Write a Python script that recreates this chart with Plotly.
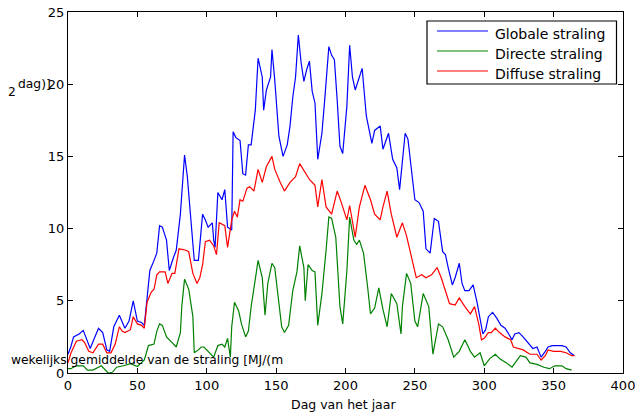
import plotly.graph_objects as go

# Globale straling (day, value)
glob_days = [0, 2, 4, 8, 11, 14, 16, 19, 22, 25, 28, 30, 33, 35, 37, 41, 44, 47, 50, 53, 55, 57, 59, 62, 64, 66, 68, 71, 73, 76, 78, 81, 84, 86, 89, 91, 94, 97, 99, 101, 104, 105, 106, 108, 111, 113, 115, 118, 119, 121, 124, 126, 128, 130, 132, 135, 137, 140, 141, 143, 146, 147, 149, 152, 155, 158, 160, 162, 164, 166, 168, 170, 172, 174, 176, 178, 180, 183, 185, 188, 190, 192, 194, 196, 198, 201, 203, 205, 207, 210, 212, 215, 219, 221, 225, 227, 231, 234, 237, 239, 240, 243, 245, 248, 250, 253, 256, 258, 261, 264, 267, 270, 272, 274, 277, 279, 282, 284, 286, 289, 292, 295, 297, 299, 301, 303, 306, 309, 312, 315, 317, 320, 322, 325, 328, 332, 335, 338, 341, 344, 346, 349, 352, 356, 359, 362, 365]
glob_vals = [1.3, 1.8, 2.5, 2.7, 2.95, 2.2, 1.7, 2.4, 3.1, 2.8, 1.6, 1.5, 3.2, 3.6, 4.0, 3.1, 3.6, 5.0, 3.6, 3.5, 3.3, 5.2, 7.1, 7.8, 8.3, 10.2, 10.1, 9.2, 7.1, 8.0, 8.5, 11.0, 15.1, 13.6, 10.4, 7.8, 7.8, 11.0, 10.6, 10.1, 10.4, 9.2, 8.7, 12.5, 12.0, 12.7, 10.1, 9.9, 16.7, 16.3, 16.1, 13.8, 13.7, 15.8, 15.8, 18.2, 21.8, 20.5, 18.2, 19.6, 20.5, 22.4, 20.3, 16.4, 15.0, 15.8, 17.1, 19.1, 20.5, 23.4, 21.5, 20.2, 21.0, 21.6, 19.5, 18.7, 14.8, 16.6, 18.9, 22.6, 22.0, 21.7, 18.9, 15.7, 15.2, 18.5, 22.7, 20.5, 19.6, 20.6, 21.1, 17.8, 15.9, 16.8, 17.1, 15.5, 16.6, 14.8, 14.2, 12.7, 13.8, 16.6, 16.2, 13.4, 12.0, 11.8, 11.2, 8.6, 8.3, 10.7, 10.5, 8.4, 8.2, 7.3, 6.1, 6.6, 7.6, 6.2, 5.7, 5.7, 6.1, 4.8, 3.6, 2.7, 3.0, 3.9, 4.2, 3.8, 3.3, 3.1, 2.8, 2.3, 2.7, 2.8, 2.5, 2.0, 1.7, 1.8, 1.1, 1.5, 1.8, 1.9, 1.9, 1.9, 1.8, 1.4, 1.2]

# Directe straling (day, value)
dir_days = [0, 2, 6, 11, 14, 18, 24, 29, 32, 35, 40, 45, 50, 55, 58, 62, 64, 66, 68, 71, 75, 78, 81, 82, 84, 87, 90, 91, 94, 96, 98, 101, 105, 108, 111, 113, 115, 117, 118, 120, 123, 125, 128, 130, 132, 135, 137, 140, 142, 144, 147, 149, 152, 154, 156, 159, 162, 165, 167, 170, 171, 173, 176, 178, 180, 183, 186, 188, 190, 193, 196, 198, 201, 203, 206, 208, 210, 213, 216, 218, 221, 224, 227, 230, 233, 237, 240, 241, 244, 247, 250, 252, 256, 260, 263, 267, 270, 274, 278, 282, 286, 290, 293, 297, 300, 304, 308, 311, 316, 320, 323, 326, 330, 333, 338, 343, 347, 351, 356, 359, 363]
dir_vals = [0.3, 0.3, 0.5, 0.5, 0.2, 0.2, 0.5, 0.0, 0.05, 0.4, 0.5, 0.65, 0.45, 0.9, 1.9, 2.0, 2.9, 3.4, 3.3, 2.5, 2.1, 1.8, 2.8, 4.6, 6.5, 5.8, 3.9, 1.4, 1.6, 1.8, 1.8, 1.5, 1.1, 1.9, 2.0, 1.8, 2.4, 1.1, 3.2, 4.9, 4.3, 3.4, 2.5, 2.9, 4.6, 6.5, 7.8, 6.6, 4.0, 6.2, 7.6, 7.3, 5.0, 3.2, 2.8, 3.3, 5.7, 7.0, 8.8, 7.3, 5.0, 7.5, 7.1, 7.0, 3.3, 5.5, 8.5, 10.8, 10.7, 9.4, 4.6, 3.4, 7.1, 10.8, 9.2, 8.9, 9.2, 8.3, 5.9, 4.1, 4.5, 5.9, 4.4, 3.2, 5.5, 4.8, 2.7, 4.6, 6.9, 6.2, 3.6, 3.2, 5.5, 4.6, 1.3, 3.4, 3.2, 2.3, 1.1, 1.5, 2.3, 1.5, 1.1, 1.4, 0.5, 1.0, 1.3, 1.0, 0.7, 0.4, 0.8, 1.2, 1.1, 0.7, 0.6, 0.4, 0.3, 0.5, 0.5, 0.3, 0.2]

# Diffuse straling (day, value)
dif_days = [0, 2, 6, 10, 12, 15, 18, 22, 25, 28, 31, 34, 37, 39, 41, 45, 47, 50, 53, 55, 57, 60, 62, 64, 66, 70, 72, 75, 77, 80, 85, 87, 90, 93, 95, 97, 99, 102, 105, 107, 109, 111, 113, 115, 118, 120, 122, 124, 126, 129, 131, 134, 137, 140, 143, 147, 149, 153, 156, 160, 164, 167, 171, 174, 178, 180, 183, 186, 190, 194, 197, 201, 203, 207, 210, 214, 218, 221, 225, 227, 230, 233, 237, 241, 244, 248, 251, 255, 258, 262, 266, 269, 273, 275, 279, 282, 286, 290, 293, 296, 298, 300, 303, 305, 308, 311, 315, 319, 321, 325, 328, 333, 338, 341, 344, 346, 350, 355, 359, 363, 365]
dif_vals = [0.7, 1.35, 2.2, 2.3, 2.1, 1.5, 1.4, 2.0, 2.0, 1.4, 1.4, 2.0, 3.2, 2.9, 2.8, 3.0, 3.9, 3.4, 3.3, 3.1, 4.9, 5.6, 5.8, 6.8, 7.0, 7.0, 6.2, 6.9, 6.9, 8.6, 8.5, 8.4, 6.9, 6.2, 6.6, 7.5, 9.1, 9.2, 8.8, 8.2, 10.4, 10.3, 10.2, 8.7, 10.6, 11.2, 10.8, 12.0, 11.9, 12.8, 12.9, 12.6, 14.1, 13.2, 14.3, 15.0, 14.1, 13.2, 12.6, 13.2, 13.6, 14.5, 13.9, 13.4, 13.0, 11.5, 13.4, 11.5, 11.0, 12.6, 11.8, 10.6, 11.6, 9.4, 11.5, 13.0, 12.0, 11.0, 10.6, 11.5, 12.6, 11.0, 9.4, 10.4, 9.5, 7.8, 6.6, 6.8, 6.6, 6.8, 7.3, 6.6, 5.5, 4.8, 4.7, 5.2, 4.6, 4.1, 4.6, 3.4, 2.3, 2.4, 2.8, 2.8, 3.1, 2.8, 2.5, 2.3, 1.8, 1.7, 1.6, 1.3, 1.3, 0.9, 1.2, 1.6, 1.5, 1.5, 1.4, 1.2, 1.2]

series_names = ["Globale straling", "Directe straling", "Diffuse straling"]
series_colors = ["#0000FF", "#008000", "#FF0000"]
x_ticks = [0, 50, 100, 150, 200, 250, 300, 350, 400]
y_ticks = [0, 5, 10, 15, 20, 25]
x_title = "Dag van het jaar"
y_title_main = "wekelijks gemiddelde van de straling [MJ/(m"
y_title_sup = "2"
y_title_tail = "dag)]"

FONT = "DejaVu Sans, sans-serif"

fig = go.Figure()
for days, vals, name, color in zip([glob_days, dir_days, dif_days],
                                   [glob_vals, dir_vals, dif_vals],
                                   series_names, series_colors):
    fig.add_trace(go.Scatter(x=days, y=vals, mode="lines", name=name, showlegend=False,
                             line=dict(color=color, width=1.2)))

axis_common = dict(showgrid=False, zeroline=False, showline=True, linecolor="black",
                   linewidth=1, mirror="ticks", ticks="inside", ticklen=5,
                   tickcolor="black", automargin=False, ticklabeloverflow="allow",
                   tickfont=dict(family=FONT, size=13, color="black"))

fig.update_xaxes(range=[0, 400], tickvals=x_ticks, **axis_common)
fig.update_yaxes(range=[0, 25], tickvals=y_ticks, **axis_common)

W, H, L, R, T, B = 635, 412, 68, 12, 12, 39
pw = W - L - R
ph = H - T - B

def px(xp):
    return (xp - L) / pw

def py(yp):
    return (H - B - yp) / ph

def txt(text, x, y, size, xanchor="left"):
    fig.add_annotation(text=text, xref="paper", yref="paper", x=x, y=y,
                       xanchor=xanchor, yanchor="middle", showarrow=False,
                       font=dict(family=FONT, size=size, color="black"))

# axis titles (as rendered in the reference)
txt(x_title, 0.5 * (px(285) + px(402)), py(404), 12.5, xanchor="center")
txt(y_title_main, px(9), py(360), 12.3)
txt(y_title_sup, px(6), py(92), 12.3)
txt(y_title_tail, px(16), py(84), 12.3)

# legend box
fig.add_shape(type="rect", xref="paper", yref="paper",
              x0=px(427), x1=px(616.5), y0=py(84), y1=py(21),
              line=dict(color="black", width=1.2), fillcolor="white", layer="above")
for i, (name, color) in enumerate(zip(series_names, series_colors)):
    yl = 31 + 20 * i
    fig.add_shape(type="line", xref="paper", yref="paper",
                  x0=px(437), x1=px(488), y0=py(yl), y1=py(yl),
                  line=dict(color=color, width=1.2), layer="above")
    txt(name, px(493), py(yl + 2.5), 14)

fig.update_layout(
    width=W, height=H,
    margin=dict(l=L, r=R, t=T, b=B),
    paper_bgcolor="white", plot_bgcolor="white",
    font=dict(family=FONT, size=13, color="black"),
    showlegend=False,
)

fig.write_html("out.html")
